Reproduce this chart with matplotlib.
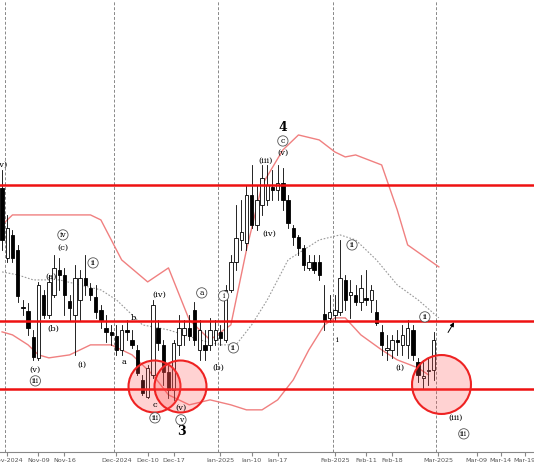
import numpy as np
import pandas as pd
import matplotlib.pyplot as plt

# price readings in chart units (axis is drawn inverted: larger number = lower on chart)
opens  = [188,258,235,250,307,311,337,358,295,315,295,270,275,301,315,300,278,288,297,310,328,332,336,350,330,340,350,380,397,375,328,345,372,390,345,335,328,310,350,345,345,340,332,340,290,262,240,243,195,225,205,200,187,190,183,200,228,237,248,268,262,262,314,318,315,312,280,295,295,302,298,300,312,332,350,350,340,345,345,330,362,378,370,370]
closes = [240,228,258,296,308,328,357,285,315,282,268,275,295,308,278,278,285,295,312,320,332,335,350,330,332,345,373,393,368,305,343,372,390,343,328,328,336,340,330,350,330,330,338,290,262,238,232,195,225,200,178,185,190,183,200,223,237,248,265,262,270,275,320,312,310,278,300,292,302,288,300,290,323,345,348,340,342,335,328,355,375,376,370,340]
highs  = [170,215,230,245,300,303,330,282,290,275,255,258,268,295,265,270,255,283,285,305,315,325,325,325,320,330,345,375,365,300,320,340,365,340,315,320,315,302,320,330,318,320,325,285,255,205,200,185,165,185,165,165,170,165,168,195,225,235,245,255,255,255,285,295,295,240,275,280,285,275,270,285,300,325,335,335,330,325,320,325,358,360,358,332]
lows   = [250,262,262,302,315,335,360,360,318,318,297,290,315,320,355,320,295,300,318,328,342,345,355,355,340,348,375,395,398,378,350,385,398,400,355,345,340,345,360,360,350,345,345,342,292,270,250,250,228,230,215,205,200,200,210,228,245,255,270,270,273,280,330,322,320,315,310,318,305,310,305,312,325,355,360,358,355,355,358,360,382,388,385,380]

# bollinger band readings at selected bars
band_bars = [0, 2, 8, 17, 19, 23, 28, 32, 36, 40, 44, 47, 50, 54, 57, 61, 64, 66, 68, 73, 76, 78, 84]
upper     = [225,215,215,215,220,260,282,268,320,340,325,250,185,150,135,140,152,157,155,165,210,245,267]
mid_bars  = [0, 3, 6, 11, 15, 19, 22, 27, 32, 38, 42, 45, 48, 51, 55, 61, 65, 68, 72, 76, 80, 84]
middle    = [272,275,280,280,285,290,300,325,330,340,345,345,325,300,260,240,235,240,260,285,300,318]
low_bars  = [0, 2, 5, 7, 9, 13, 17, 21, 25, 29, 32, 36, 40, 44, 47, 50, 53, 56, 59, 62, 64, 66, 69, 73, 76, 80, 82]
lower     = [332,335,345,355,358,355,345,345,355,375,395,405,400,405,410,410,400,380,350,325,318,318,335,350,360,368,375]

levels = [185, 321, 389]
circle_bars = [29.2, 34.2, 84.4]
circle_vals = [386, 386, 384]

# wave labels: bar, value, text, circled
labels = [
    (0, 165, '(v)', False), (6.4, 370, '(v)', False), (6.4, 381, 'iii', True),
    (9.5, 277, '(a)', False), (9.8, 329, '(b)', False), (11.7, 248, '(c)', False),
    (11.7, 235, 'iv', True), (15.4, 365, '(i)', False), (17.5, 263, 'ii', True),
    (23.4, 362, 'a', False), (25.2, 318, 'b', False), (29.4, 405, 'c', False),
    (29.4, 418, 'iii', True), (30.2, 295, '(iv)', False), (34.4, 408, '(v)', False),
    (34.4, 420, 'v', True), (34.4, 432, '3', False), (38.4, 293, 'a', True),
    (41.5, 368, '(b)', False), (42.6, 296, 'i', True), (44.5, 348, 'ii', True),
    (50.7, 161, '(iii)', False), (51.3, 234, '(iv)', False), (54, 153, '(v)', False),
    (54, 141, 'c', True), (54, 128, '4', False), (64.4, 340, 'i', False),
    (67.3, 245, 'ii', True), (76.6, 368, '(i)', False), (81.3, 317, 'ii', True),
    (87.2, 418, '(iii)', False), (88.8, 434, 'iii', True),
]

tick_dates = ['2024-11-01', '2024-11-09', '2024-11-16', '2024-12-01', '2024-12-10', '2024-12-17',
              '2025-01-01', '2025-01-10', '2025-01-17', '2025-02-01', '2025-02-11', '2025-02-18',
              '2025-03-01', '2025-03-09', '2025-03-14', '2025-03-19']
tick_labels = ['Nov-2024', 'Nov-09', 'Nov-16', 'Dec-2024', 'Dec-10', 'Dec-17',
               'Jan-2025', 'Jan-10', 'Jan-17', 'Feb-2025', 'Feb-11', 'Feb-18',
               'Mar-2025', 'Mar-09', 'Mar-14', 'Mar-19']

days = pd.bdate_range('2024-10-31', '2025-02-28')
days = days[~days.isin(pd.to_datetime(['2024-12-25', '2024-12-26', '2025-01-01']))]
# past bars by trading day, future part of the axis by calendar day
def bar_pos(d):
    d = pd.Timestamp(d)
    if d <= days[-1]:
        return days.searchsorted(d)
    return len(days) + (d - days[-1]).days * 0.92 - 1

tick_pos = [bar_pos(d) for d in tick_dates]
month_pos = [tick_pos[i] - 0.4 for i in (0, 3, 6, 9, 12)]

fig = plt.figure(figsize=(5.34, 4.62), dpi=100)
ax = fig.add_axes([0, 0.022, 1, 0.978])

for p in month_pos:
    ax.axvline(p, color='#888888', lw=0.7, ls=(0, (3, 2)), zorder=1)

ax.plot(band_bars, upper, color='#f08080', lw=1, zorder=2)
ax.plot(low_bars, lower, color='#f08080', lw=1, zorder=2)
ax.plot(mid_bars, middle, color='#999999', lw=0.8, ls=(0, (1.5, 1.5)), zorder=2)

for i in range(len(opens)):
    o, c, h, l = opens[i], closes[i], highs[i], lows[i]
    ax.plot([i, i], [h, l], color='black', lw=0.6, zorder=3)
    bear = c > o
    ax.bar(i, abs(c - o) if c != o else 1, bottom=min(o, c), width=0.65,
           color='black' if bear else 'white', edgecolor='black', lw=0.6, zorder=4)

for y in levels:
    ax.axhline(y, color='#ee1111', lw=1.8, zorder=5)

ax.scatter(circle_bars[:2], circle_vals[:2], s=1400, facecolor=(1, 0.3, 0.3, 0.25),
           edgecolor='#ee2222', lw=1.5, zorder=6)
ax.scatter(circle_bars[2:], circle_vals[2:], s=1800, facecolor=(1, 0.3, 0.3, 0.25),
           edgecolor='#ee2222', lw=1.5, zorder=6)

for b, v, t, circ in labels:
    if circ:
        ax.text(b, v, t, fontsize=5.5, ha='center', va='center', family='DejaVu Serif', zorder=7,
                bbox=dict(boxstyle='circle,pad=0.15', fc='white', ec='#555555', lw=0.6))
    else:
        big = t in ('3', '4')
        ax.text(b, v, t, fontsize=9 if big else 6, ha='center', va='center',
                family='DejaVu Serif', fontweight='bold' if big else 'normal', zorder=7)

ax.annotate('', xy=(87.2, 320), xytext=(85.5, 335),
            arrowprops=dict(arrowstyle='-|>', color='black', lw=0.7, mutation_scale=6), zorder=7)

ax.set_xlim(-0.4, 102.3)
ax.set_ylim(452, 0)
ax.set_yticks([])
ax.set_xticks(tick_pos)
ax.set_xticklabels(tick_labels, fontsize=4.6, color='#555555')
ax.tick_params(axis='x', length=3, pad=1.2, color='#888888')
for s in ('top', 'right', 'left'):
    ax.spines[s].set_visible(False)
ax.spines['bottom'].set_color('#888888')

fig.savefig('out.png', dpi=100)
